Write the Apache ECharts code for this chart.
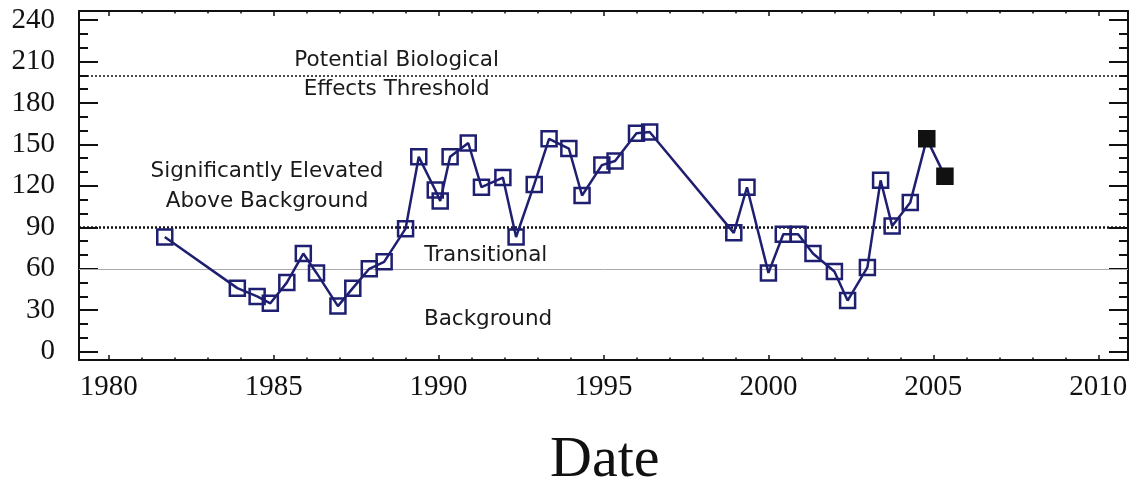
<!DOCTYPE html>
<html>
<head>
<meta charset="utf-8">
<script src="https://cdn.jsdelivr.net/npm/echarts@6/dist/echarts.min.js"></script>
<style>
  html, body { margin: 0; padding: 0; background: #fff; }
  #chart { width: 1136px; height: 487px; }
</style>
</head>
<body>
<div id="chart"></div>
<script>
// Sampling dates (decimal years) and measured concentrations
const sampleDates = [
  1981.7, 1983.9, 1984.5, 1984.9, 1985.4, 1985.9, 1986.3, 1986.95, 1987.4, 1987.9,
  1988.35, 1989.0, 1989.4, 1989.9, 1990.05, 1990.35, 1990.9, 1991.3, 1991.95, 1992.35,
  1992.9, 1993.35, 1993.95, 1994.35, 1994.95, 1995.35, 1996.0, 1996.4, 1998.95, 1999.35,
  2000.0, 2000.45, 2000.9, 2001.35, 2002.0, 2002.4, 2003.0, 2003.4, 2003.75, 2004.3,
  2004.8, 2005.35
];
const sampleValues = [
  83, 46, 40, 35, 50, 71, 57, 33, 46, 60,
  65, 89, 141, 117, 109, 141, 151, 119, 126, 83,
  121, 154, 147, 113, 135, 138, 158, 159, 86, 119,
  57, 85, 85, 71, 58, 37, 61, 124, 91, 108,
  154, 127
];
// The most recent samples are drawn with solid markers
const latestSampleCount = 2;

const xTickYears = [1980, 1985, 1990, 1995, 2000, 2005, 2010];
const yTickValues = [0, 30, 60, 90, 120, 150, 180, 210, 240];

const biologicalThreshold = 200;
const elevatedThreshold = 90;
const backgroundThreshold = 60;

const zoneLabels = [
  { text: 'Potential Biological', at: [1988.73, 211] },
  { text: 'Effects Threshold', at: [1988.73, 189.5] },
  { text: 'Significantly Elevated', at: [1984.8, 130.5] },
  { text: 'Above Background', at: [1984.8, 109] },
  { text: 'Transitional', at: [1991.43, 69.5] },
  { text: 'Background', at: [1991.5, 23] }
];

const X_MIN = 1979.1, X_MAX = 2010.9;
const Y_MIN = -6, Y_MAX = 246.5;

const NAVY = '#1f1f72';
const INK = '#111';
const SERIF = '"Liberation Serif", "Times New Roman", serif';
const SANS = '"DejaVu Sans", sans-serif';

const everyYear = [];
for (let y = 1980; y <= 2010; y++) everyYear.push(y);
const everyTen = [];
for (let v = 0; v <= 240; v += 10) everyTen.push(v);

function xAxisDef(position, ticks, len, withLabels, withLine) {
  return {
    type: 'value', position, min: X_MIN, max: X_MAX,
    axisLine: { show: withLine, onZero: false, lineStyle: { color: INK, width: 2 } },
    axisTick: { show: true, inside: true, length: len, customValues: ticks,
                lineStyle: { color: INK, width: 1.5 } },
    axisLabel: withLabels ? {
      show: true, customValues: xTickYears, margin: 13,
      formatter: v => String(v),
      fontFamily: SERIF, fontSize: 29, color: INK
    } : { show: false },
    splitLine: { show: false }
  };
}
function yAxisDef(position, ticks, len, withLabels, withLine) {
  return {
    type: 'value', position, min: Y_MIN, max: Y_MAX,
    axisLine: { show: withLine, onZero: false, lineStyle: { color: INK, width: 2 } },
    axisTick: { show: true, inside: true, length: len, customValues: ticks,
                lineStyle: { color: INK, width: 2 } },
    axisLabel: withLabels ? {
      show: true, customValues: yTickValues, margin: 24,
      formatter: v => String(v),
      fontFamily: SERIF, fontSize: 29, color: INK
    } : { show: false },
    splitLine: { show: false }
  };
}

const seriesData = sampleDates.map((d, i) => {
  const point = [d, sampleValues[i]];
  if (i >= sampleDates.length - latestSampleCount) {
    return { value: point, itemStyle: { color: INK, borderColor: INK } };
  }
  return point;
});

const chart = echarts.init(document.getElementById('chart'), null, { renderer: 'canvas' });
chart.setOption({
  animation: false,
  backgroundColor: '#fff',
  grid: { left: 79, right: 8, top: 11, bottom: 127, containLabel: false },
  xAxis: [
    xAxisDef('bottom', xTickYears, 5, true, true),
    xAxisDef('bottom', everyYear, 2.5, false, false),
    xAxisDef('top', xTickYears, 5, false, true),
    xAxisDef('top', everyYear, 2.5, false, false)
  ],
  yAxis: [
    yAxisDef('left', yTickValues, 19, true, true),
    yAxisDef('left', everyTen, 9, false, false),
    yAxisDef('right', yTickValues, 19, false, true),
    yAxisDef('right', everyTen, 9, false, false)
  ],
  title: {
    text: 'Date', left: 545, top: 427,
    textStyle: { fontFamily: SERIF, fontSize: 58, fontWeight: 'normal', color: INK }
  },
  series: [{
    type: 'line',
    xAxisIndex: 0, yAxisIndex: 0,
    data: seriesData,
    symbol: 'rect',
    symbolSize: 15,
    lineStyle: { color: NAVY, width: 2.5 },
    itemStyle: { color: 'rgba(255,255,255,0)', borderColor: NAVY, borderWidth: 2.5 },
    z: 5,
    markLine: {
      silent: true,
      symbol: 'none',
      label: { show: false },
      data: [
        { yAxis: biologicalThreshold, lineStyle: { color: INK, width: 1.5, type: [2, 2] } },
        { yAxis: elevatedThreshold, lineStyle: { color: INK, width: 2.5, type: [2, 2] } },
        { yAxis: backgroundThreshold, lineStyle: { color: '#aaa', width: 1, type: 'solid' } }
      ]
    }
  }]
});

// Zone captions anchored in data coordinates
chart.setOption({
  graphic: zoneLabels.map(z => {
    const p = chart.convertToPixel({ xAxisIndex: 0, yAxisIndex: 0 }, z.at);
    return {
      type: 'text', x: p[0], y: p[1], z: 10,
      style: {
        text: z.text, fill: '#1a1a1a', font: '21.5px ' + SANS,
        textAlign: 'center', textVerticalAlign: 'middle'
      }
    };
  })
});
</script>
</body>
</html>
